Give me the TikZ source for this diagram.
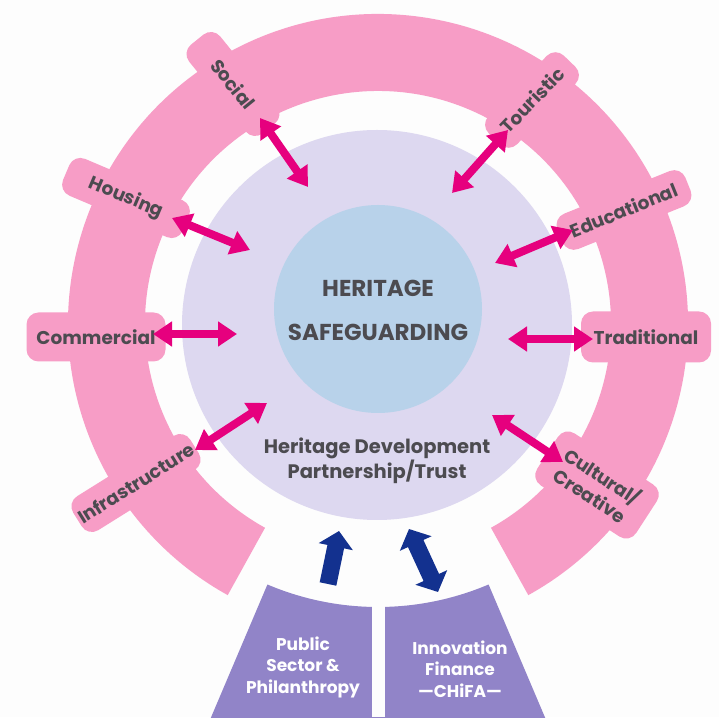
\documentclass[tikz,border=0pt]{standalone}
\usepackage{fontspec}
\setmainfont{Poppins}
\usepackage{tikz}
\usetikzlibrary{arrows.meta}

\definecolor{paper}{HTML}{FDFDFD}
\definecolor{ringpink}{HTML}{F79DC6}
\definecolor{trustlilac}{HTML}{DDD8F0}
\definecolor{coreblue}{HTML}{B8D2EA}
\definecolor{linkpink}{HTML}{E6007E}
\definecolor{flownavy}{HTML}{13318F}
\definecolor{fundpurple}{HTML}{9184C8}
\definecolor{labelgray}{HTML}{4C4B50}

\tikzset{
  tab/.style={fill=ringpink, rounded corners=12pt, inner sep=0pt, align=center,
    text=labelgray, font=\bfseries\fontsize{18.5}{23}\selectfont},
  link/.style={linkpink, line width=8pt,
    {Triangle[length=19pt,width=24pt]}-{Triangle[length=19pt,width=24pt]}},
  flow/.style={flownavy, line width=17pt, -{Triangle[length=16pt,width=34pt]}},
  twoflow/.style={flownavy, line width=17pt,
    {Triangle[length=16pt,width=34pt]}-{Triangle[length=16pt,width=34pt]}},
  coretext/.style={text=labelgray, font=\bfseries\fontsize{23}{25}\selectfont},
  trusttext/.style={text=labelgray, align=center, font=\bfseries\fontsize{19.5}{25}\selectfont},
  fundtext/.style={text=white, align=center, font=\bfseries\fontsize{17}{21.5}\selectfont}
}

\begin{document}
\begin{tikzpicture}[x=1pt,y=1pt]
        \fill[paper] (0,0) rectangle (719,717);
        \useasboundingbox (0,0) rectangle (719,717);
        \coordinate (hub) at (378,393);

        % outer ring of uses
        \fill[ringpink] ([shift={(-61:310)}]hub) arc[start angle=-61,end angle=241,radius=310]
            -- ([shift={(241:233)}]hub) arc[start angle=241,end angle=-61,radius=233] -- cycle;

        % funding blocks
        \begin{scope}
            \clip (0,0) rectangle (719,717);
            \fill[fundpurple] ([shift={(247:283)}]hub) arc[start angle=247,end angle=293,radius=283]
                -- ([shift={(293:480)}]hub) -- ([shift={(247:480)}]hub) -- cycle;
            \fill[paper] (372,0) rectangle (385,120);
        \end{scope}

        \node[circle, fill=trustlilac, minimum size=390pt, inner sep=0pt] (trust) at (377,392) {};
        \node[circle, fill=coreblue, minimum size=208pt, inner sep=0pt] (core) at (378,408) {};

        \node[coretext] (heritage) at (378,429) {HERITAGE};
        \node[coretext] (safeguard) at (378,385) {SAFEGUARDING};
        \node[trusttext] (trustlabel) at (377,256) {Heritage Development\\Partnership/Trust};

        \node[fundtext] (public) at (303,50) {Public\\Sector \&\\Philanthropy};
        \node[fundtext] (chifa) at (460,48) {Innovation\\Finance\\—CHiFA—};

        % tabs on the ring
        \node[tab, minimum width=114pt, minimum height=40pt, rotate=-51] (social) at (233,633) {Social};
        \node[tab, minimum width=130pt, minimum height=40pt, rotate=-23] (housing) at (126,519) {Housing};
        \node[tab, minimum width=139pt, minimum height=49pt] (commercial) at (96,380) {Commercial};
        \node[tab, minimum width=138pt, minimum height=40pt, rotate=32] (infra) at (136,234) {Infrastructure};
        \node[tab, minimum width=108pt, minimum height=40pt, rotate=46] (touristic) at (532,617) {Touristic};
        \node[tab, minimum width=138pt, minimum height=38pt, rotate=22] (educational) at (624,507) {Educational};
        \node[tab, minimum width=130pt, minimum height=51pt] (traditional) at (646,380) {Traditional};
        \node[tab, minimum width=118pt, minimum height=62pt, rotate=-33] (cultural) at (597,232) {Cultural/\\Creative};

        % arrow ends
        \coordinate (social-out) at (260,599);
        \coordinate (social-in) at (308,530);
        \coordinate (housing-out) at (172,499);
        \coordinate (housing-in) at (250,467);
        \coordinate (commercial-out) at (153,383);
        \coordinate (commercial-in) at (237,383);
        \coordinate (infra-out) at (195,267);
        \coordinate (infra-in) at (267,314);
        \coordinate (touristic-out) at (508,587);
        \coordinate (touristic-in) at (452,524);
        \coordinate (educational-out) at (573,487);
        \coordinate (educational-in) at (495,454);
        \coordinate (traditional-out) at (593,378);
        \coordinate (traditional-in) at (508,378);
        \coordinate (cultural-out) at (563,255);
        \coordinate (cultural-in) at (492,302);

        \draw[link] (social-out) -- (social-in);
        \draw[link] (housing-out) -- (housing-in);
        \draw[link] (commercial-out) -- (commercial-in);
        \draw[link] (infra-out) -- (infra-in);
        \draw[link] (touristic-out) -- (touristic-in);
        \draw[link] (educational-out) -- (educational-in);
        \draw[link] (traditional-out) -- (traditional-in);
        \draw[link] (cultural-out) -- (cultural-in);

        % funding arrows
        \coordinate (public-foot) at (328,133);
        \coordinate (public-tip) at (339,186);
        \coordinate (chifa-top) at (409,188);
        \coordinate (chifa-bottom) at (438,125);
        \draw[flow] (public-foot) -- (public-tip);
        \draw[twoflow] (chifa-top) -- (chifa-bottom);
\end{tikzpicture}
\end{document}
